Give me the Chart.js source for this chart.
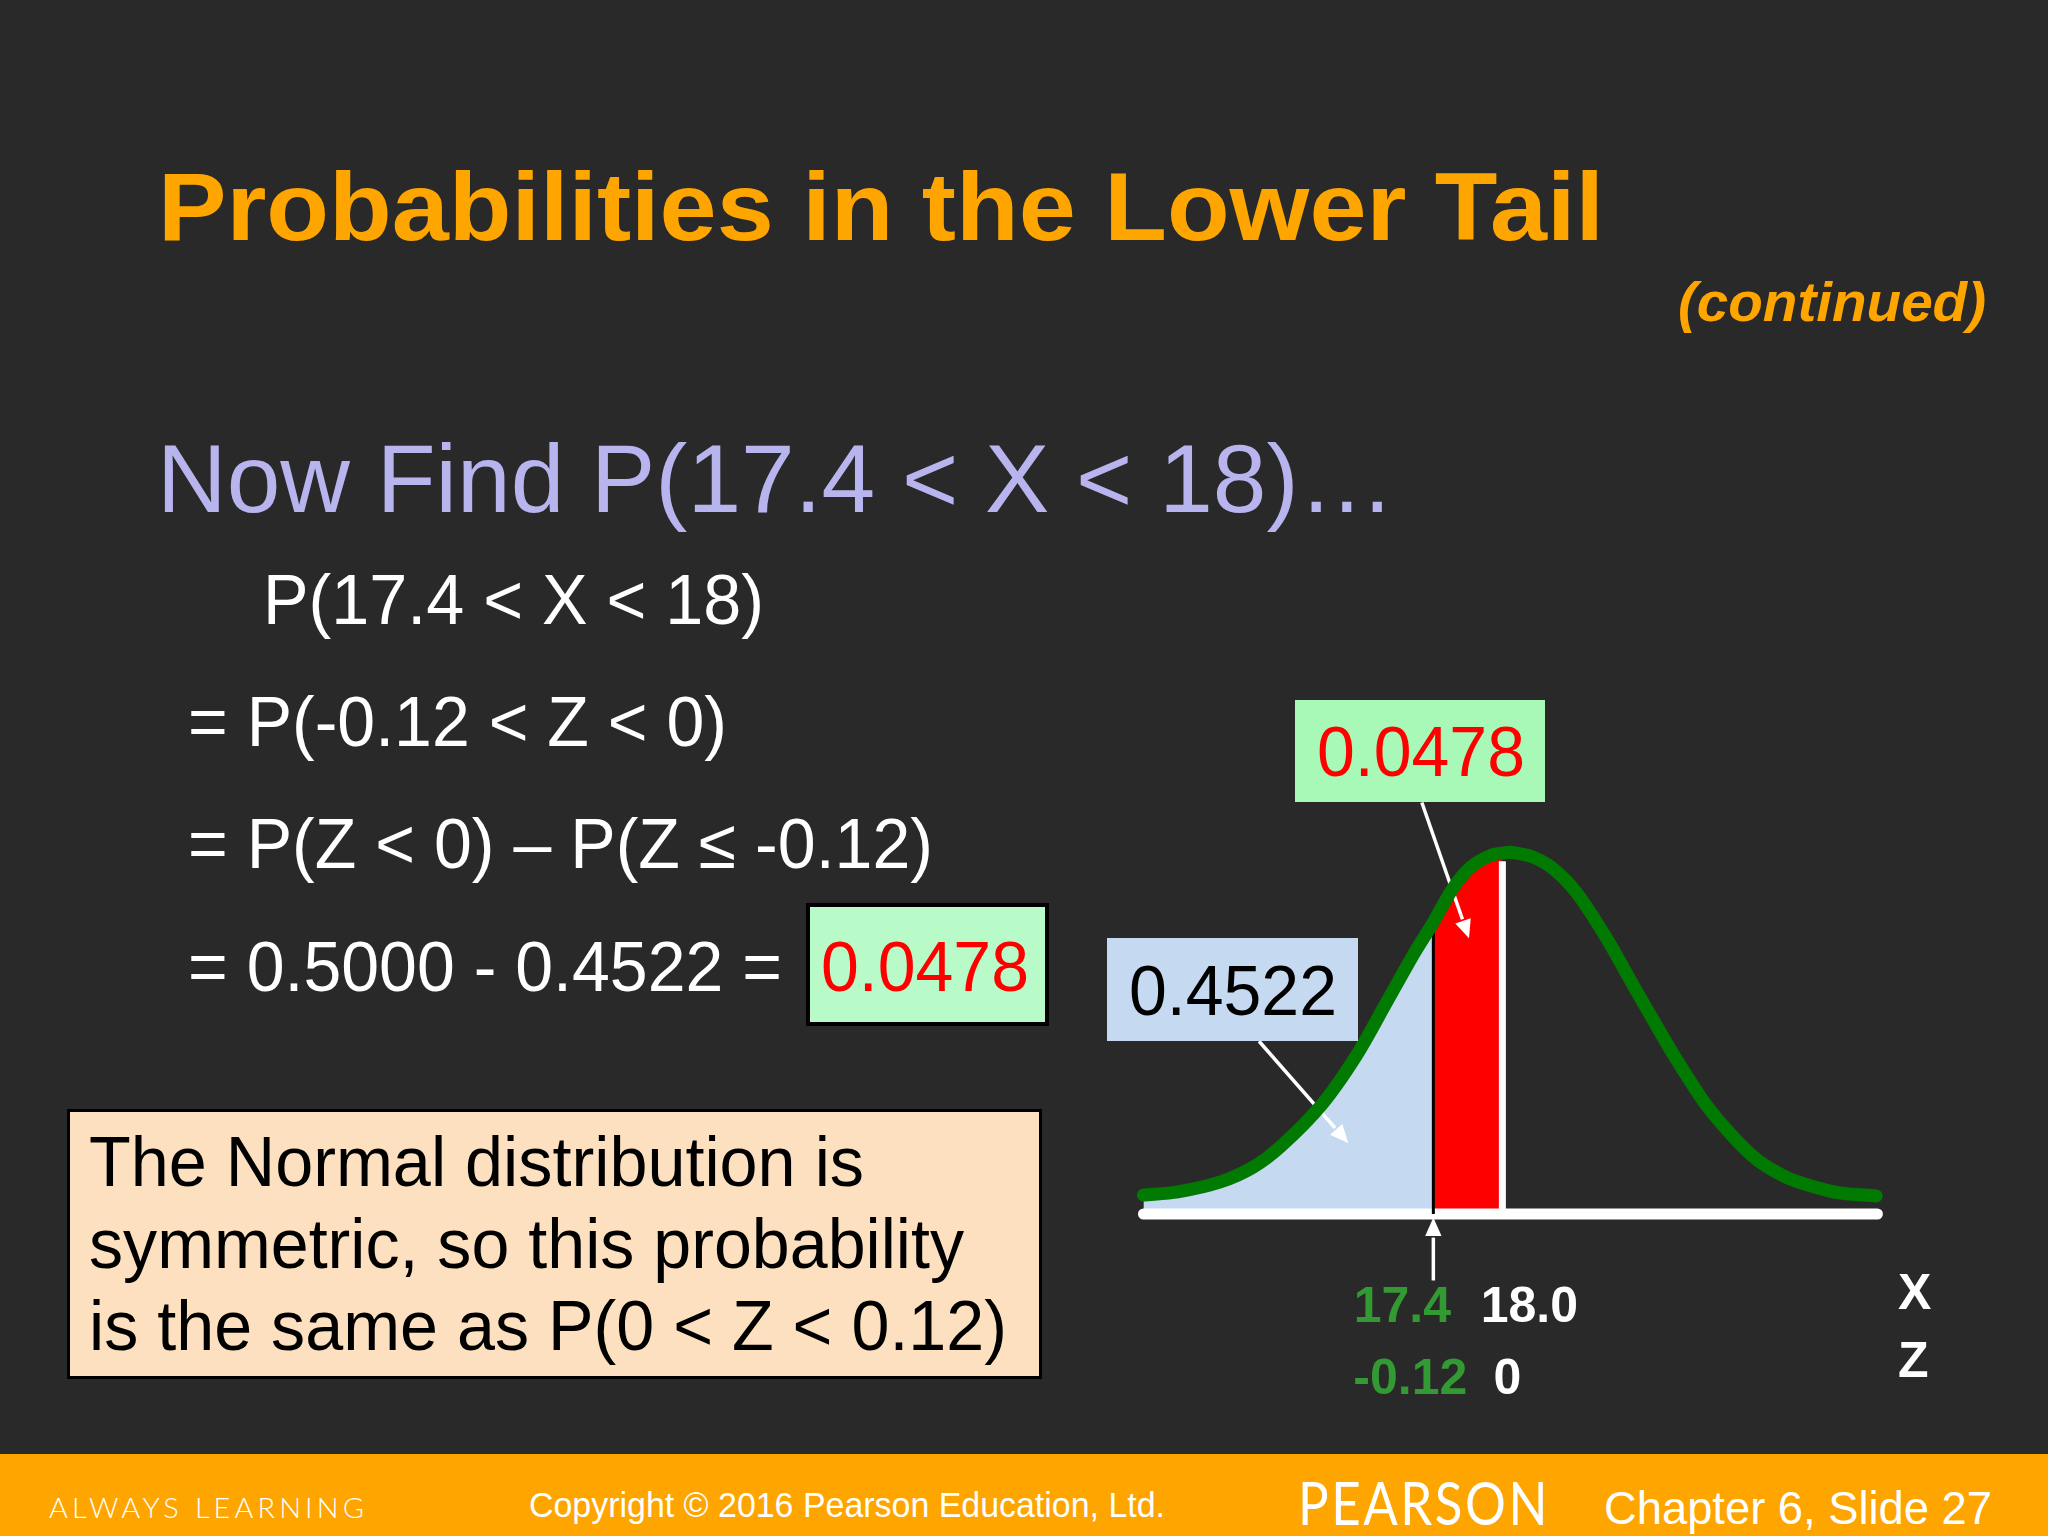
<!DOCTYPE html>
<html>
<head>
<meta charset="utf-8">
<script src="https://cdn.jsdelivr.net/npm/chart.js@4"></script>
<style>
  html, body { margin: 0; padding: 0; background: #292929; }
  #slide { position: relative; width: 2048px; height: 1536px; overflow: hidden; background: #292929; }
  #plot { position: absolute; left: 0; top: 0; }
  #footer { position: absolute; left: 0; top: 1454px; width: 2048px; height: 82px; background: #ffa500; }
  .box { position: absolute; box-sizing: border-box; }
  .t { position: absolute; white-space: pre; line-height: 1; font-family: "Liberation Sans", Arial, sans-serif; transform-origin: left top; }
</style>
</head>
<body>
<div id="slide">
  <canvas id="plot" width="2048" height="1536"></canvas>
  <div id="footer"></div>
</div>
<script>
/*DATA*/
const curveX = [14.88, 15.18, 15.55, 15.83, 16.08, 16.43, 16.73, 16.98, 17.23, 17.4, 17.57, 17.73, 17.9, 18, 18.07, 18.27, 18.45, 18.65, 18.9, 19.15, 19.37, 19.52, 19.77, 20.02, 20.22, 20.47, 20.67, 20.92, 21.25]
const curveY = [0.0042, 0.0049, 0.0071, 0.0103, 0.0151, 0.0242, 0.035, 0.0462, 0.0575, 0.0645, 0.072, 0.0768, 0.0793, 0.0798, 0.08, 0.0789, 0.0762, 0.0709, 0.0612, 0.05, 0.0403, 0.0339, 0.0242, 0.0167, 0.0119, 0.0081, 0.0063, 0.0047, 0.004]

const xLower = 17.4
const xMean = 18
const xTickValues = [17.4, 18]
const xTickLabels = ['17.4', '18.0']
const zTickValues = [-0.12, 0]
const zTickLabels = ['-0.12', '0']

/*COLOURS*/
const orange = '#ffa500'
const lavender = '#b8b4ee'
const curveGreen = '#007a00'
const labelGreen = '#339933'

/*SLIDE TEXT*/
const arial = '"Liberation Sans", Arial, sans-serif'
const texts = [
  { s: 'Probabilities in the Lower Tail', x: 158, base: 240, size: 97, w: 1446, color: orange, weight: 'bold' },
  { s: '(continued)', x: 1678, base: 321, size: 56, w: 308, color: orange, weight: 'bold', style: 'italic' },
  { s: 'Now Find P(17.4 < X < 18)…', x: 157, base: 512, size: 97, w: 1238, color: lavender },
  { s: 'P(17.4 < X < 18)', x: 263, base: 624, size: 70, w: 501, color: '#fff' },
  { s: '= P(-0.12 < Z < 0)', x: 188, base: 746, size: 70, w: 539, color: '#fff' },
  { s: '= P(Z < 0) – P(Z ≤ -0.12)', x: 188, base: 868, size: 70, w: 745, color: '#fff' },
  { s: '= 0.5000 - 0.4522 =', x: 188, base: 991, size: 70, w: 594, color: '#fff' }
]

const boxes = [
  { x: 806, y: 903, w: 243, h: 123, fill: '#b9fbc8', border: '4px solid #000' },
  { x: 67, y: 1109, w: 975, h: 270, fill: '#fde0bf', border: '3px solid #000' },
  { x: 1295, y: 700, w: 250, h: 102, fill: '#a8f9b8' },
  { x: 1107, y: 938, w: 251, h: 103, fill: '#c5d9f1' }
]

const boxTexts = [
  { s: '0.0478', x: 821, base: 991, size: 70, w: 208, color: '#f00' },
  { s: 'The Normal distribution is', x: 89, base: 1186, size: 70, w: 775, color: '#000' },
  { s: 'symmetric, so this probability', x: 89, base: 1268, size: 70, w: 875, color: '#000' },
  { s: 'is the same as P(0 < Z < 0.12)', x: 89, base: 1350, size: 70, w: 918, color: '#000' },
  { s: '0.0478', x: 1317, base: 776, size: 70, w: 208, color: '#f00' },
  { s: '0.4522', x: 1129, base: 1015, size: 70, w: 208, color: '#000' }
]

const footerTexts = [
  { s: 'ALWAYS LEARNING', x: 49, base: 1517, size: 28, w: 319, color: '#fff', font: 'Lato', spacing: 4, weight: '300' },
  { s: 'Copyright © 2016 Pearson Education, Ltd.', x: 529, base: 1517, size: 35, w: 636, color: '#fff' },
  { s: 'PEARSON', x: 1298, base: 1523, size: 60, w: 252, color: '#fff', font: 'Lato', spacing: 3 },
  { s: 'Chapter 6, Slide 27', x: 1604, base: 1524, size: 46, w: 388, color: '#fff' }
]

const slide = document.getElementById('slide')

function addBox(b) {
  const el = document.createElement('div')
  el.className = 'box'
  el.style.cssText = `left:${b.x}px;top:${b.y}px;width:${b.w}px;height:${b.h}px;background:${b.fill};border:${b.border || 'none'}`
  slide.appendChild(el)
}

// baseline of a line-height:1 span sits about .8465em down in Liberation Sans
function addText(t) {
  const el = document.createElement('span')
  el.className = 't'
  el.textContent = t.s
  el.style.left = t.x + 'px'
  el.style.top = (t.base - 0.8465 * t.size) + 'px'
  el.style.fontSize = t.size + 'px'
  el.style.color = t.color
  if (t.weight) el.style.fontWeight = t.weight
  if (t.style) el.style.fontStyle = t.style
  if (t.font) el.style.fontFamily = t.font + ', ' + arial
  if (t.spacing) el.style.letterSpacing = t.spacing + 'px'
  slide.appendChild(el)
  // squeeze to the measured width
  el.style.transform = `scaleX(${t.w / el.getBoundingClientRect().width})`
}

boxes.forEach(addBox)
texts.concat(boxTexts, footerTexts).forEach(addText)

/*ARROWS, in axis units*/
const arrows = [
  { from: [17.3, 0.091], to: [17.71, 0.061] },
  { from: [15.885, 0.0382], to: [16.66, 0.0157] },
  { from: [17.4, -0.0147], to: [17.4, -0.0008] }
]

function drawArrow(ctx, x0, y0, x1, y1) {
  const angle = Math.atan2(y1 - y0, x1 - x0)
  const len = 20
  ctx.strokeStyle = '#fff'
  ctx.fillStyle = '#fff'
  ctx.lineWidth = 3.5
  ctx.beginPath()
  ctx.moveTo(x0, y0)
  ctx.lineTo(x1 - len * Math.cos(angle), y1 - len * Math.sin(angle))
  ctx.stroke()
  ctx.beginPath()
  ctx.moveTo(x1, y1)
  ctx.lineTo(x1 - len * Math.cos(angle - 0.42), y1 - len * Math.sin(angle - 0.42))
  ctx.lineTo(x1 - len * Math.cos(angle + 0.42), y1 - len * Math.sin(angle + 0.42))
  ctx.closePath()
  ctx.fill()
}

// arrows run under the green curve
const arrowPlugin = {
  id: 'arrowPlugin',
  beforeDatasetDraw(chart, args) {
    if (chart.data.datasets[args.index].label !== 'curve') return
    const { ctx, scales } = chart
    ctx.save()
    for (const a of arrows) {
      drawArrow(ctx, scales.x.getPixelForValue(a.from[0]), scales.y.getPixelForValue(a.from[1]),
        scales.x.getPixelForValue(a.to[0]), scales.y.getPixelForValue(a.to[1]))
    }
    ctx.restore()
  }
}

/*TICK LABELS, next to their ticks as on the slide*/
const xLabelShift = [-31, 27]
const zLabelShift = [-23, 5]

const axisLabels = {
  id: 'axisLabels',
  afterDraw(chart) {
    const { ctx, scales, chartArea } = chart
    ctx.save()
    ctx.font = 'bold 50px ' + arial
    ctx.textAlign = 'center'
    ctx.textBaseline = 'alphabetic'
    xTickValues.forEach((v, i) => {
      ctx.fillStyle = i === 0 ? labelGreen : '#fff'
      ctx.fillText(xTickLabels[i], scales.x.getPixelForValue(v) + xLabelShift[i], chartArea.bottom + 108)
    })
    zTickValues.forEach((v, i) => {
      ctx.fillStyle = i === 0 ? labelGreen : '#fff'
      ctx.fillText(zTickLabels[i], scales.z.getPixelForValue(v) + zLabelShift[i], chartArea.bottom + 180)
    })
    ctx.fillStyle = '#fff'
    ctx.textAlign = 'left'
    ctx.fillText('X', chartArea.right + 16, chartArea.bottom + 95)
    ctx.fillText('Z', chartArea.right + 16, chartArea.bottom + 163)
    ctx.restore()
  }
}

/*CHART*/
const points = curveX.map((x, i) => ({ x, y: curveY[i] }))
const xMin = 14.85
const xMax = 21.3

new Chart(document.getElementById('plot'), {
  type: 'line',
  data: {
    datasets: [
      { label: 'curve', data: points, borderColor: curveGreen, borderWidth: 13, tension: 0.3, borderCapStyle: 'round', borderJoinStyle: 'round', order: 0 },
      { label: 'lower tail', data: points.filter(p => p.x <= xLower), borderWidth: 0, fill: 'origin', backgroundColor: '#c5d9f1', order: 6 },
      { label: 'between', data: points.filter(p => p.x >= xLower && p.x <= xMean), borderWidth: 0, fill: 'origin', backgroundColor: '#ff0000', order: 5 },
      { label: 'baseline', data: [{ x: 14.88, y: 0 }, { x: 21.26, y: 0 }], borderColor: '#fff', borderWidth: 11, borderCapStyle: 'round', order: 4 },
      { label: 'mean', data: [{ x: xMean, y: 0 }, { x: xMean, y: 0.078 }], borderColor: '#fff', borderWidth: 7, order: 3 },
      { label: 'lower', data: [{ x: xLower, y: 0 }, { x: xLower, y: 0.0645 }], borderColor: '#000', borderWidth: 3, order: 2 }
    ]
  },
  options: {
    responsive: false,
    animation: false,
    parsing: false,
    layout: { padding: { left: 1140, right: 166, top: 807, bottom: 322 } },
    elements: { point: { radius: 0 }, line: { tension: 0 } },
    datasets: { line: { clip: false } },
    plugins: { legend: { display: false }, tooltip: { enabled: false } },
    scales: {
      x: { type: 'linear', display: false, min: xMin, max: xMax },
      z: { type: 'linear', axis: 'x', display: false, min: (xMin - xMean) / 5, max: (xMax - xMean) / 5 },
      y: { type: 'linear', display: false, min: 0, max: 0.09 }
    }
  },
  plugins: [arrowPlugin, axisLabels]
})
</script>
</body>
</html>
